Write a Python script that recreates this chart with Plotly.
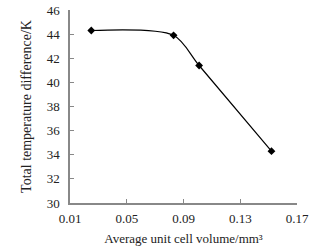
import plotly.graph_objects as go

volume = [0.025, 0.083, 0.101, 0.152]
temp_diff = [44.3, 43.9, 41.4, 34.3]

x_ticks = [0.01, 0.05, 0.09, 0.13, 0.17]
x_labels = ["0.01", "0.05", "0.09", "0.13", "0.17"]
y_ticks = [30, 32, 34, 36, 38, 40, 42, 44, 46]

fig = go.Figure()
fig.add_trace(go.Scatter(
    x=volume, y=temp_diff, mode="lines+markers",
    line=dict(color="black", width=1.2, shape="spline", smoothing=0.8),
    marker=dict(symbol="diamond", size=6, color="black"),
    showlegend=False, hoverinfo="skip",
))

serif = "Liberation Serif, Times New Roman, serif"
tick_font = dict(family=serif, size=13, color="#222")
fig.update_layout(
    width=325, height=249,
    margin=dict(l=70, r=28, t=10, b=46),
    paper_bgcolor="white", plot_bgcolor="white",
    font=tick_font,
    xaxis=dict(
        range=[0.01, 0.17], tickvals=x_ticks, ticktext=x_labels,
        showline=True, linecolor="#888", linewidth=1.5,
        ticks="inside", ticklen=4, tickcolor="#888",
        showgrid=False, zeroline=False, automargin=False,
        ticklabelstandoff=3, tickfont=tick_font,
        title=dict(text="Average unit cell volume/mm³", standoff=9,
                   font=dict(family=serif, size=13, color="#222")),
    ),
    yaxis=dict(
        range=[30, 46], tickvals=y_ticks,
        showline=True, linecolor="#888", linewidth=1.5,
        ticks="inside", ticklen=4, tickcolor="#888",
        showgrid=False, zeroline=False, automargin=False,
        ticklabelstandoff=6, tickfont=tick_font,
        title=dict(text="Total temperature difference/K", standoff=12,
                   font=dict(family=serif, size=14, color="#222")),
    ),
)
fig.write_html("out.html", config={"displayModeBar": False},
               post_script="document.body.style.margin='0';")
